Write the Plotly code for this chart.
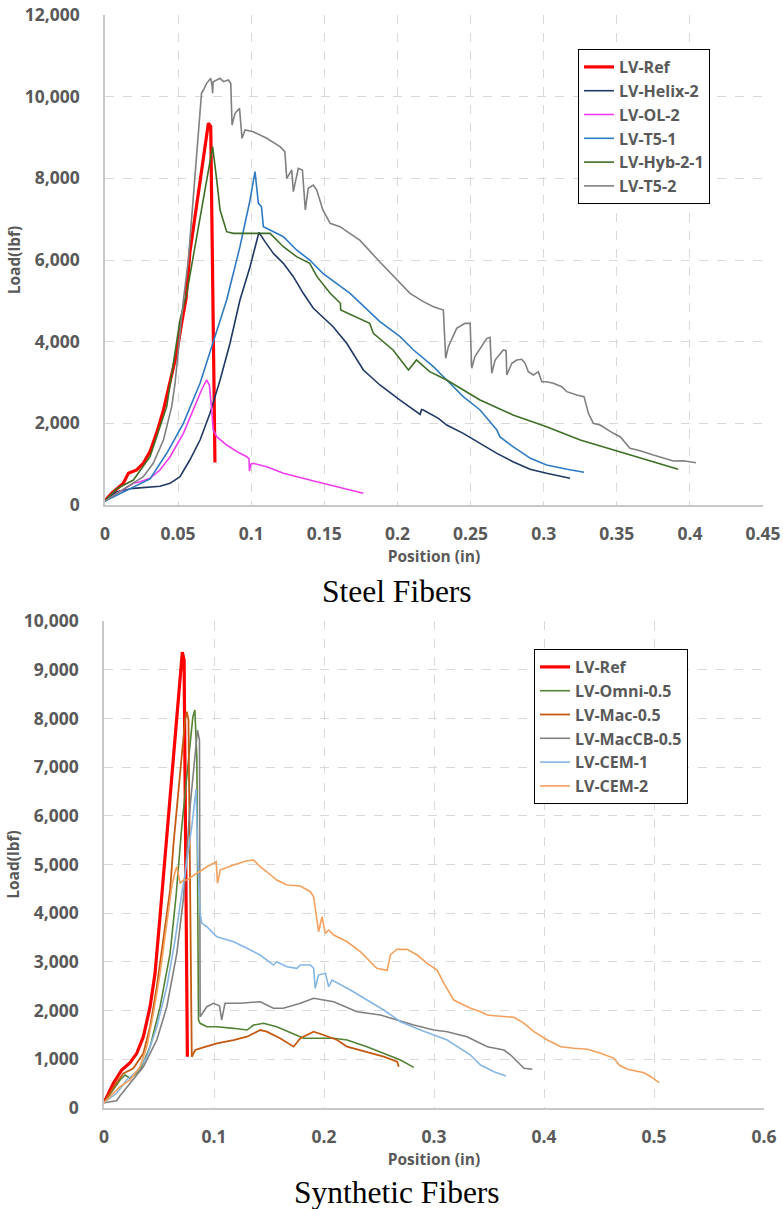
import plotly.graph_objects as go

# ---------------- Steel fibers (top chart) ----------------
STEEL_NAMES = ["LV-Ref", "LV-Helix-2", "LV-OL-2", "LV-T5-1", "LV-Hyb-2-1", "LV-T5-2"]
STEEL_COLORS = ["#FF0000", "#203864", "#F03CF0", "#2E7BC4", "#3F6E26", "#808080"]
STEEL_WIDTHS = [3.2, 1.6, 1.6, 1.6, 1.6, 1.6]

S_REF = [(0, 110), (0.005, 300), (0.0125, 530), (0.016, 780), (0.0217, 860), (0.0262, 1020),
         (0.0308, 1310), (0.0353, 1760), (0.040, 2330), (0.0445, 2980), (0.049, 3710),
         (0.0524, 4450), (0.0554, 5050), (0.0581, 6200), (0.065, 7880), (0.0707, 9350),
         (0.0723, 9270), (0.0752, 1040)]

S_HELIX = [(0, 100), (0.008, 326), (0.0194, 408), (0.0308, 449), (0.0376, 460), (0.0445, 531),
           (0.0513, 694), (0.058, 1102), (0.065, 1592), (0.0718, 2245), (0.0787, 3061),
           (0.0855, 3960), (0.0923, 5020), (0.0992, 5837), (0.1053, 6678), (0.1094, 6449),
           (0.1151, 6163), (0.122, 5919), (0.1288, 5592), (0.1356, 5184), (0.1425, 4817),
           (0.156, 4367), (0.1653, 3960), (0.1767, 3306), (0.188, 2939), (0.2018, 2571),
           (0.2155, 2220), (0.2165, 2340), (0.2177, 2327), (0.228, 2123), (0.2337, 1959),
           (0.245, 1755), (0.2565, 1510), (0.268, 1265), (0.279, 1061), (0.2907, 874),
           (0.302, 776), (0.318, 653)]

S_OL = [(0, 100), (0.0103, 326), (0.0194, 531), (0.024, 571), (0.0308, 653), (0.0376, 857),
        (0.0445, 1183), (0.0536, 1755), (0.0604, 2327), (0.066, 2816), (0.0695, 3061),
        (0.0714, 2939), (0.073, 2327), (0.074, 1837), (0.0764, 1673), (0.0832, 1469),
        (0.0923, 1266), (0.097, 1183), (0.0985, 1130), (0.0988, 830), (0.0998, 1000),
        (0.1015, 1020), (0.1106, 938), (0.122, 776), (0.1448, 571), (0.1676, 367), (0.1767, 286)]

S_T51 = [(0, 100), (0.0103, 286), (0.0194, 449), (0.0308, 640), (0.0422, 1266), (0.0536, 2000),
         (0.065, 2980), (0.074, 3960), (0.0832, 5020), (0.0923, 6326), (0.0992, 7470),
         (0.1026, 8163), (0.1049, 7388), (0.107, 7307), (0.1083, 6816), (0.1129, 6735),
         (0.122, 6571), (0.131, 6245), (0.140, 6000), (0.149, 5674), (0.158, 5429),
         (0.1676, 5184), (0.188, 4490), (0.2018, 4122), (0.211, 3796), (0.2246, 3388),
         (0.2337, 3061), (0.245, 2653), (0.2565, 2327), (0.268, 1837), (0.270, 1673),
         (0.279, 1428), (0.291, 1143), (0.302, 980), (0.316, 874), (0.3276, 800)]

S_HYB = [(0, 100), (0.008, 400), (0.0194, 612), (0.0308, 1183), (0.0422, 2408), (0.0513, 4530),
         (0.0559, 5184), (0.065, 6980), (0.0736, 8776), (0.0764, 7960), (0.0787, 7225),
         (0.0832, 6693), (0.0878, 6653), (0.1129, 6653), (0.122, 6326), (0.131, 6081),
         (0.140, 5919), (0.145, 5592), (0.154, 5184), (0.161, 4940), (0.1612, 4776),
         (0.181, 4450), (0.1835, 4204), (0.197, 3796), (0.2075, 3306), (0.213, 3551),
         (0.222, 3265), (0.2337, 3061), (0.2565, 2571), (0.279, 2204), (0.302, 1918),
         (0.325, 1592), (0.348, 1347), (0.370, 1102), (0.392, 874)]

S_T52 = [(0, 100), (0.0103, 330), (0.0194, 531), (0.0262, 694), (0.033, 1020), (0.040, 1592),
         (0.0456, 2408), (0.0479, 2980), (0.0513, 4204), (0.0536, 5020), (0.057, 6000),
         (0.0604, 7633), (0.0638, 9265), (0.066, 10082), (0.0673, 10163), (0.0695, 10327),
         (0.0723, 10449), (0.0733, 10250), (0.0736, 10082), (0.074, 10367), (0.0787, 10449),
         (0.081, 10367), (0.0843, 10408), (0.086, 10327), (0.0869, 9306), (0.0889, 9592),
         (0.092, 9714), (0.0937, 8980), (0.0958, 9184), (0.1014, 9143), (0.1106, 8980),
         (0.1197, 8776), (0.123, 8653), (0.1243, 8000), (0.1277, 8204), (0.1288, 7673),
         (0.1322, 8245), (0.135, 8204), (0.137, 7225), (0.139, 7755), (0.1425, 7837),
         (0.1448, 7714), (0.149, 7225), (0.154, 6898), (0.1607, 6816), (0.1676, 6650),
         (0.1744, 6480), (0.188, 5950), (0.197, 5620), (0.2086, 5184), (0.2177, 4980),
         (0.2246, 4857), (0.2314, 4776), (0.233, 3592), (0.2348, 3877), (0.2405, 4327),
         (0.2462, 4449), (0.2497, 4449), (0.2508, 3347), (0.253, 3633), (0.2611, 4082),
         (0.2633, 4106), (0.2645, 3225), (0.2668, 3551), (0.2724, 3796), (0.2743, 3780),
         (0.2748, 3184), (0.2782, 3470), (0.2816, 3551), (0.285, 3568), (0.2873, 3470),
         (0.2895, 3265), (0.293, 3184), (0.2964, 3265), (0.2987, 3020), (0.302, 3020),
         (0.3066, 2980), (0.3124, 2898), (0.3158, 2776), (0.3226, 2694), (0.3276, 2653),
         (0.3306, 2245), (0.334, 2000), (0.3386, 1959), (0.3477, 1755), (0.3523, 1673),
         (0.359, 1388), (0.366, 1330), (0.375, 1225), (0.382, 1143), (0.3887, 1078),
         (0.3956, 1085), (0.4042, 1036)]

STEEL_DATA = [S_REF, S_HELIX, S_OL, S_T51, S_HYB, S_T52]

# ---------------- Synthetic fibers (bottom chart) ----------------
SYN_NAMES = ["LV-Ref", "LV-Omni-0.5", "LV-Mac-0.5", "LV-MacCB-0.5", "LV-CEM-1", "LV-CEM-2"]
SYN_COLORS = ["#FF0000", "#548235", "#C55A11", "#808080", "#86B6E3", "#F4A15D"]
SYN_WIDTHS = [3.2, 1.6, 1.8, 1.6, 1.6, 1.6]

Y_REF = [(0, 109), (0.0085, 507), (0.0161, 780), (0.0237, 930), (0.0298, 1123), (0.0358, 1464),
         (0.0419, 2080), (0.0464, 2765), (0.051, 3950), (0.054, 4750), (0.057, 5700),
         (0.0631, 7212), (0.0677, 8513), (0.0712, 9360), (0.0728, 9198), (0.0758, 1053)]

Y_OMNI = [(0, 109), (0.0146, 575), (0.0191, 677), (0.0237, 610), (0.0328, 780), (0.0419, 1259),
          (0.051, 2080), (0.0601, 3176), (0.0655, 4350), (0.0707, 5775), (0.0768, 7144),
          (0.0808, 8034), (0.0826, 8171), (0.0844, 7212), (0.0859, 1807), (0.0874, 1739),
          (0.0935, 1669), (0.1026, 1669), (0.1177, 1636), (0.13, 1601), (0.136, 1704),
          (0.145, 1739), (0.157, 1669), (0.172, 1533), (0.1815, 1431), (0.2088, 1431),
          (0.221, 1396), (0.239, 1259), (0.2543, 1123), (0.2695, 985), (0.2816, 835)]

Y_MAC = [(0, 109), (0.0085, 420), (0.0176, 712), (0.0267, 815), (0.0358, 1123), (0.0419, 1669),
         (0.048, 2490), (0.054, 3449), (0.0601, 4476), (0.0631, 5400), (0.0677, 6529),
         (0.0707, 7100), (0.0737, 7966), (0.0753, 8136), (0.0768, 7966), (0.0798, 1053),
         (0.0829, 1191), (0.0874, 1226), (0.1026, 1328), (0.1177, 1396), (0.1299, 1464),
         (0.142, 1601), (0.148, 1567), (0.160, 1431), (0.169, 1293), (0.1724, 1259),
         (0.1785, 1431), (0.1906, 1567), (0.1997, 1499), (0.2119, 1396), (0.221, 1259),
         (0.239, 1156), (0.2543, 1053), (0.2665, 951), (0.268, 848)]

Y_MACCB = [(0, 109), (0.0115, 150), (0.0146, 250), (0.0237, 507), (0.0358, 848), (0.048, 1396),
           (0.0571, 2080), (0.0662, 3176), (0.0722, 4300), (0.0783, 6200), (0.0829, 7350),
           (0.085, 7760), (0.0868, 7555), (0.0874, 1874), (0.0935, 2080), (0.0995, 2150),
           (0.105, 2100), (0.107, 1807), (0.110, 2150), (0.124, 2150), (0.142, 2182),
           (0.154, 2047), (0.163, 2047), (0.1785, 2150), (0.1906, 2252), (0.2088, 2182),
           (0.230, 1977), (0.2513, 1909), (0.2816, 1704), (0.2999, 1601), (0.312, 1567),
           (0.330, 1464), (0.3485, 1259), (0.3636, 1191), (0.3697, 1088), (0.3757, 951),
           (0.3818, 815), (0.3894, 794)]

Y_CEM1 = [(0, 109), (0.0115, 302), (0.0206, 575), (0.0298, 745), (0.0389, 1053), (0.048, 1669),
          (0.0571, 2490), (0.0646, 3449), (0.0707, 4408), (0.0737, 4818), (0.0798, 5775),
          (0.0837, 6550), (0.0855, 5000), (0.0874, 3997), (0.089, 3792), (0.0935, 3722),
          (0.1026, 3517), (0.1177, 3414), (0.13, 3279), (0.142, 3141), (0.154, 2936),
          (0.157, 3004), (0.1663, 2901), (0.1754, 2868), (0.1785, 2936), (0.1876, 2936),
          (0.1906, 2868), (0.192, 2457), (0.195, 2730), (0.2012, 2765), (0.2043, 2490),
          (0.2073, 2628), (0.224, 2422), (0.239, 2217), (0.2543, 2012), (0.2695, 1772),
          (0.2877, 1601), (0.312, 1396), (0.3332, 1088), (0.3423, 883), (0.3545, 745),
          (0.3654, 657)]

Y_CEM2 = [(0, 109), (0.0146, 437), (0.0237, 575), (0.0328, 848), (0.0389, 1259), (0.0449, 1944),
          (0.051, 2765), (0.0571, 3792), (0.0616, 4543), (0.0646, 4850), (0.0662, 4954),
          (0.0692, 4613), (0.0722, 4681), (0.0753, 4681), (0.0844, 4818), (0.0935, 4954),
          (0.0995, 5024), (0.1020, 5057), (0.1032, 4613), (0.1056, 4886), (0.1177, 4989),
          (0.13, 5077), (0.136, 5091), (0.142, 4954), (0.148, 4851), (0.157, 4681),
          (0.1663, 4578), (0.1785, 4558), (0.1876, 4441), (0.1906, 4338), (0.1951, 3620),
          (0.1982, 3928), (0.2012, 3586), (0.2043, 3654), (0.2088, 3552), (0.221, 3414),
          (0.233, 3209), (0.242, 3004), (0.248, 2868), (0.2574, 2826), (0.2604, 3150),
          (0.2665, 3260), (0.2756, 3258), (0.2847, 3141), (0.2938, 2971), (0.3029, 2833),
          (0.309, 2560), (0.318, 2217), (0.3332, 2047), (0.3423, 1977), (0.3485, 1909),
          (0.3576, 1889), (0.3727, 1862), (0.3818, 1739), (0.3909, 1567), (0.403, 1396),
          (0.4152, 1259), (0.4273, 1226), (0.4395, 1205), (0.4516, 1123), (0.4637, 1020),
          (0.4683, 883), (0.4759, 794), (0.491, 725), (0.4971, 643), (0.5047, 520)]

SYN_DATA = [Y_REF, Y_OMNI, Y_MAC, Y_MACCB, Y_CEM1, Y_CEM2]

STEEL_TITLE = "Steel Fibers"
SYN_TITLE = "Synthetic Fibers"
X_TITLE = "Position (in)"
Y_TITLE = "Load(lbf)"

W, H = 783, 1209
FONT = "Open Sans"
TXT = "#595959"

fig = go.Figure()

for name, col, wid, pts in zip(STEEL_NAMES, STEEL_COLORS, STEEL_WIDTHS, STEEL_DATA):
    fig.add_trace(go.Scatter(x=[p[0] for p in pts], y=[p[1] for p in pts], mode="lines",
                             name=name, line=dict(color=col, width=wid),
                             xaxis="x", yaxis="y", legend="legend"))

for name, col, wid, pts in zip(SYN_NAMES, SYN_COLORS, SYN_WIDTHS, SYN_DATA):
    fig.add_trace(go.Scatter(x=[p[0] for p in pts], y=[p[1] for p in pts], mode="lines",
                             name=name, line=dict(color=col, width=wid),
                             xaxis="x2", yaxis="y2", legend="legend2"))

def px_x(v):
    return v / W

def px_y(v):
    return 1 - v / H

common_axis = dict(showgrid=True, gridcolor="#D9D9D9", griddash="dash", gridwidth=1,
                   zeroline=False, showline=True, linecolor="#C8C8C8", linewidth=1.5,
                   ticks="", automargin=False,
                   tickfont=dict(family=FONT, size=17.5, color=TXT, weight="bold"),
                   title_font=dict(family=FONT, size=15.5, color=TXT, weight="bold"))

legend_common = dict(bgcolor="white", bordercolor="black", borderwidth=1,
                     font=dict(family=FONT, size=16, color=TXT, weight="bold"),
                     xanchor="left", yanchor="top", tracegroupgap=0, itemwidth=30)

fig.update_layout(
    width=W, height=H, margin=dict(l=0, r=0, t=0, b=0),
    paper_bgcolor="white", plot_bgcolor="white",
    xaxis=dict(common_axis, domain=[px_x(105), px_x(763)], range=[0, 0.45], dtick=0.05,
               anchor="y", ticklabelstandoff=12,
               title=dict(text=X_TITLE, standoff=2)),
    yaxis=dict(common_axis, domain=[px_y(505), px_y(15)], range=[0, 12000], dtick=2000,
               tickformat=",d", anchor="x", ticklabelstandoff=20,
               title=dict(text=Y_TITLE, standoff=0)),
    xaxis2=dict(common_axis, domain=[px_x(104), px_x(764)], range=[0, 0.6], dtick=0.1,
                anchor="y2", ticklabelstandoff=12,
                title=dict(text=X_TITLE, standoff=2)),
    yaxis2=dict(common_axis, domain=[px_y(1108), px_y(621)], range=[0, 10000], dtick=1000,
                tickformat=",d", anchor="x2", ticklabelstandoff=20,
                title=dict(text=Y_TITLE, standoff=0)),
    legend=dict(legend_common, x=px_x(578), y=px_y(49)),
    legend2=dict(legend_common, x=px_x(534), y=px_y(649)),
    annotations=[
        dict(text=STEEL_TITLE, x=px_x(397), y=px_y(591), xref="paper", yref="paper",
             showarrow=False, xanchor="center", yanchor="middle",
             font=dict(family="Liberation Serif", size=31.5, color="black")),
        dict(text=SYN_TITLE, x=px_x(397), y=px_y(1192), xref="paper", yref="paper",
             showarrow=False, xanchor="center", yanchor="middle",
             font=dict(family="Liberation Serif", size=31.5, color="black")),
    ],
)

fig.write_html("out.html", config={"displayModeBar": False},
               post_script="document.body.style.margin='0';document.body.style.overflow='hidden';")
